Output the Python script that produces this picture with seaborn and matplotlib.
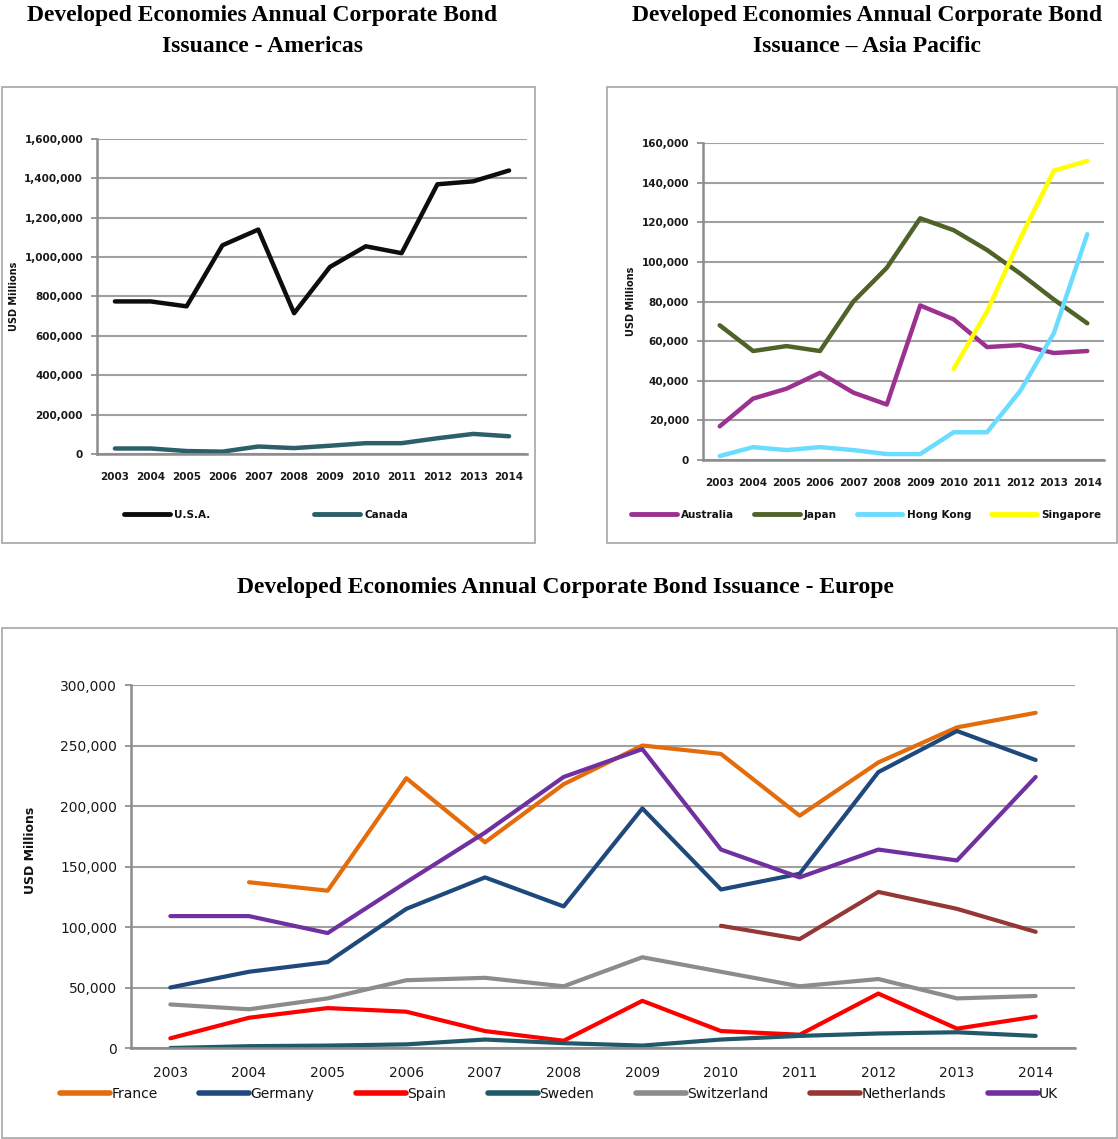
import numpy as np
import pandas as pd
import matplotlib
matplotlib.use("Agg")
import matplotlib.pyplot as plt
from matplotlib.patches import Rectangle
from matplotlib.ticker import StrMethodFormatter
import seaborn as sns

years = list(range(2003, 2015))

# Americas
usa = [775000, 775000, 750000, 1060000, 1140000, 715000, 950000, 1055000, 1020000, 1370000, 1385000, 1440000]
canada = [28000, 28000, 15000, 12000, 38000, 30000, 42000, 55000, 55000, 80000, 102000, 90000]

# Asia Pacific
australia = [17000, 31000, 36000, 44000, 34000, 28000, 78000, 71000, 57000, 58000, 54000, 55000]
japan = [68000, 55000, 57500, 55000, 80000, 97000, 122000, 116000, 106000, 94000, 81000, 69000]
hong_kong = [2000, 6500, 5000, 6500, 5000, 3000, 3000, 14000, 14000, 35000, 64000, 114000]
singapore = [np.nan] * 7 + [46000, 75000, 112000, 146000, 151000]

# Europe
france = [np.nan, 137000, 130000, 223000, 170000, 218000, 250000, 243000, 192000, 236000, 265000, 277000]
germany = [50000, 63000, 71000, 115000, 141000, 117000, 198000, 131000, 144000, 228000, 262000, 238000]
spain = [8000, 25000, 33000, 30000, 14000, 6000, 39000, 14000, 11000, 45000, 16000, 26000]
sweden = [0, 1500, 2000, 3000, 7000, 4000, 2000, 7000, 10000, 12000, 13000, 10000]
switzerland = [36000, 32000, 41000, 56000, 58000, 51000, 75000, 63000, 51000, 57000, 41000, 43000]
netherlands = [np.nan] * 7 + [101000, 90000, 129000, 115000, 96000]
uk = [109000, 109000, 95000, 137000, 178000, 224000, 247000, 164000, 141000, 164000, 155000, 224000]

americas = {"U.S.A.": usa, "Canada": canada}
asia = {"Australia": australia, "Japan": japan, "Hong Kong": hong_kong, "Singapore": singapore}
europe = {"France": france, "Germany": germany, "Spain": spain, "Sweden": sweden,
          "Switzerland": switzerland, "Netherlands": netherlands, "UK": uk}

pal_am = {"U.S.A.": "#0d0d0d", "Canada": "#2b5f6a"}
pal_as = {"Australia": "#9b3290", "Japan": "#4f6228", "Hong Kong": "#6bdcff", "Singapore": "#ffff00"}
pal_eu = {"France": "#e46c0a", "Germany": "#1f497d", "Spain": "#ff0000", "Sweden": "#215968",
          "Switzerland": "#8c8c8c", "Netherlands": "#953735", "UK": "#7030a0"}


def long_df(d):
    rows = []
    for name, vals in d.items():
        for y, v in zip(years, vals):
            rows.append({"Year": y, "Value": v, "Country": name})
    return pd.DataFrame(rows)


sns.set_theme(style="white")
plt.rcParams["text.color"] = "#111111"
plt.rcParams["axes.labelcolor"] = "#111111"
W, H = 1118, 1139
fig = plt.figure(figsize=(W / 100, H / 100), dpi=100)

# panel borders
for (x0, y0, x1, y1) in [(2, 87, 535, 543), (607, 87, 1117, 543), (2, 628, 1117, 1138)]:
    fig.patches.append(Rectangle((x0 / W, 1 - y1 / H), (x1 - x0) / W, (y1 - y0) / H,
                                 transform=fig.transFigure, fill=False,
                                 edgecolor="#a6a6a6", linewidth=1.2))


def style_axis(ax, ymax, step, tick_size, ylab_size, ylab_pad, bold):
    ax.set_xlim(2002.5, 2014.5)
    ax.set_ylim(0, ymax)
    ax.set_xticks(years)
    ax.set_yticks(np.arange(0, ymax + 1, step))
    ax.yaxis.set_major_formatter(StrMethodFormatter("{x:,.0f}"))
    ax.yaxis.grid(True, color="#a0a0a0", linewidth=1.5)
    ax.set_axisbelow(True)
    for s in ["top", "right"]:
        ax.spines[s].set_visible(False)
    for s in ["left", "bottom"]:
        ax.spines[s].set_color("#8c8c8c")
        ax.spines[s].set_linewidth(1.8)
    ax.tick_params(axis="y", left=True, length=4, color="#8c8c8c", labelsize=tick_size, pad=6)
    ax.tick_params(axis="x", bottom=False, labelsize=tick_size, pad=7)
    w = "bold" if bold else "normal"
    for lab in ax.get_xticklabels() + ax.get_yticklabels():
        lab.set_fontweight(w)
        lab.set_color("#1a1a1a")
    ax.set_xlabel("")
    ax.set_ylabel("USD Millions", fontsize=ylab_size, fontweight="bold", labelpad=ylab_pad)


title_kw = dict(family="Liberation Serif", fontweight="bold", fontsize=17, ha="center", va="center",
                color="black")

# Americas
ax1 = fig.add_axes([97 / W, 1 - 454 / H, 430 / W, 315 / H])
sns.lineplot(data=long_df(americas), x="Year", y="Value", hue="Country", palette=pal_am,
             linewidth=3.2, ax=ax1, legend=False)
style_axis(ax1, 1600000, 200000, 7.5, 7, 4, True)
h1 = [plt.Line2D([], [], color=pal_am[k], lw=3.5) for k in americas]
fig.legend(h1, list(americas), loc="center", bbox_to_anchor=(266 / W, 1 - 515 / H), ncol=2,
           frameon=False, handlelength=4.4, columnspacing=10, handletextpad=0.4,
           prop={"size": 7.5, "weight": "bold"})
fig.text(262 / W, 1 - 15 / H, "Developed Economies Annual Corporate Bond", **title_kw)
fig.text(262 / W, 1 - 46 / H, "Issuance - Americas", **title_kw)

# Asia Pacific
ax2 = fig.add_axes([703 / W, 1 - 460 / H, 401 / W, 317 / H])
sns.lineplot(data=long_df(asia), x="Year", y="Value", hue="Country", palette=pal_as,
             linewidth=3.2, ax=ax2, legend=False)
style_axis(ax2, 160000, 20000, 7.5, 7, 4, True)
h2 = [plt.Line2D([], [], color=pal_as[k], lw=3.5) for k in asia]
fig.legend(h2, list(asia), loc="center", bbox_to_anchor=(866 / W, 1 - 515 / H), ncol=4,
           frameon=False, handlelength=4.4, columnspacing=1.9, handletextpad=0.4,
           prop={"size": 7.5, "weight": "bold"})
fig.text(867 / W, 1 - 15 / H, "Developed Economies Annual Corporate Bond", **title_kw)
fig.text(867 / W, 1 - 46 / H, "Issuance \u2013 Asia Pacific", **title_kw)

# Europe
ax3 = fig.add_axes([131 / W, 1 - 1048 / H, 944 / W, 363 / H])
sns.lineplot(data=long_df(europe), x="Year", y="Value", hue="Country", palette=pal_eu,
             linewidth=3, ax=ax3, legend=False)
style_axis(ax3, 300000, 50000, 10, 9, 18, False)
ax3.yaxis.set_label_coords(-0.1, 0.545)
h3 = [plt.Line2D([], [], color=pal_eu[k], lw=4) for k in europe]
fig.legend(h3, list(europe), loc="center", bbox_to_anchor=(559 / W, 1 - 1094 / H), ncol=7,
           frameon=False, handlelength=3.6, columnspacing=3.0, handletextpad=0.1,
           prop={"size": 10})
fig.text(565 / W, 1 - 587 / H, "Developed Economies Annual Corporate Bond Issuance - Europe", **title_kw)

fig.savefig("out.png", dpi=100)
